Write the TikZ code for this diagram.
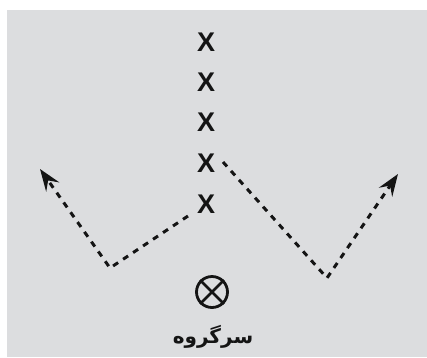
\documentclass[tikz,border=0pt]{standalone}
\usepackage{fontspec}
\setmainfont{Liberation Sans}
\newfontfamily\arabicfont[Script=Arabic]{DejaVu Sans}
\TeXXeTstate=1
\usetikzlibrary{arrows.meta}
\definecolor{bg}{HTML}{DCDDDF}
\definecolor{ink}{HTML}{141414}
\tikzset{
  player/.style={inner sep=0pt, text=ink, font=\bfseries\fontsize{27}{27}\selectfont},
  route/.style={draw=ink, line width=3pt, dash pattern=on 6pt off 6pt, -{Stealth[length=22pt,width=16pt,inset=8pt]}},
  leaderring/.style={circle, draw=ink, line width=2.8pt, minimum size=31pt, inner sep=0pt},
}
\begin{document}
\begin{tikzpicture}[x=1pt,y=-1pt]
\useasboundingbox (0,0) rectangle (427,357);
\fill[bg] (7,10) rectangle (427,357);
\node[player] (x1) at (206,42) {X};
\node[player] (x2) at (206,82) {X};
\node[player] (x3) at (206,122) {X};
\node[player] (x4) at (206,163) {X};
\node[player] (x5) at (206,204) {X};
\node[leaderring] (leader) at (212,292) {};
\draw[ink, line width=2.6pt] (leader.45) -- (leader.225) (leader.135) -- (leader.315);
\node[text=ink, font=\arabicfont\bfseries\fontsize{20}{20}\selectfont] (label) at (213,337) {\beginR سرگروه\endR};
\coordinate (ls) at (188,216);
\coordinate (lv) at (110,268);
\coordinate (lt) at (40,169);
\coordinate (rs) at (223,162);
\coordinate (rv) at (327,278);
\coordinate (rt) at (398,174);
\draw[route] (ls) -- (lv) -- (lt);
\draw[route] (rs) -- (rv) -- (rt);
\end{tikzpicture}
\end{document}
